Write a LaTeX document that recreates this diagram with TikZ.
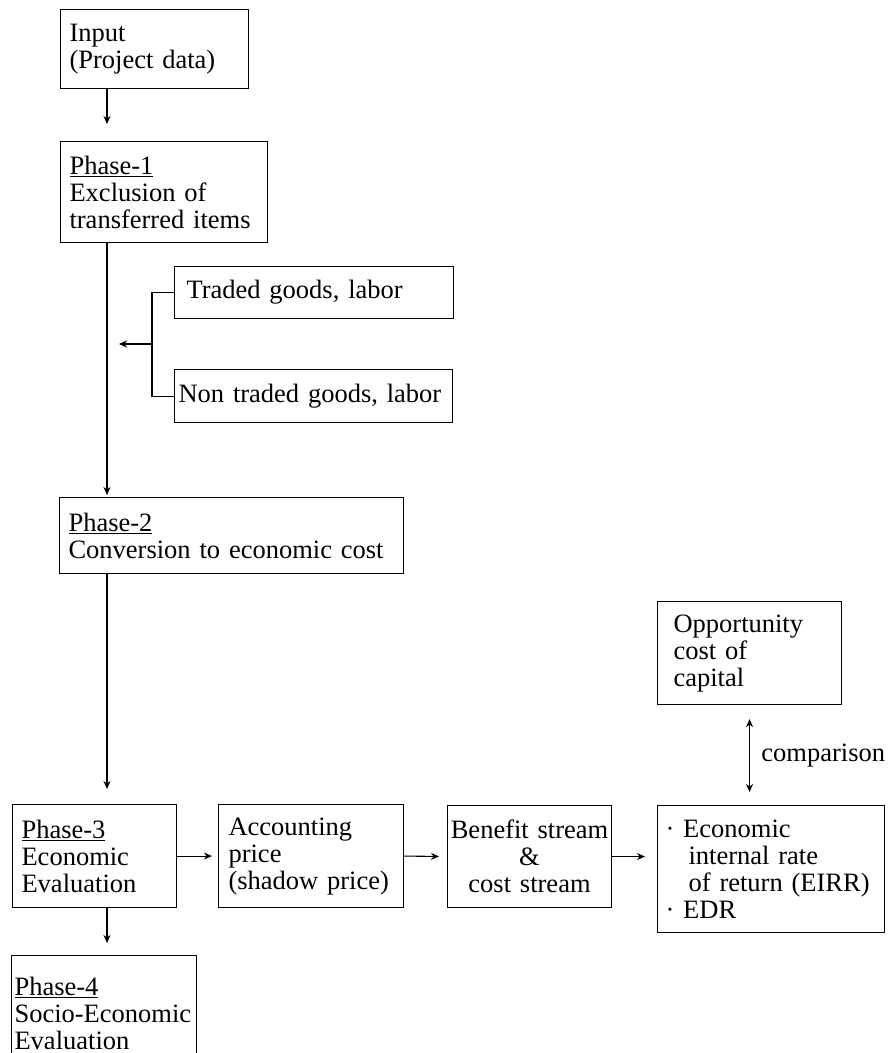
\documentclass[tikz,border=0pt]{standalone}
\usepackage{fontspec}
\setmainfont{Liberation Serif}
\usepackage{tikz}
\usetikzlibrary{arrows.meta,positioning}
\newcommand{\flowfont}{\fontsize{26.5pt}{27pt}\selectfont\hyphenpenalty=10000}
\tikzstyle{stepbox} = [draw, line width=1.1pt, anchor=north west, align=left, inner xsep=9pt, inner ysep=0pt, font=\flowfont]
\tikzstyle{flow} = [line width=1.1pt, -{Stealth[length=8pt,width=7pt]}]
\tikzstyle{twoway} = [line width=1.1pt, {Stealth[length=8pt,width=7pt]}-{Stealth[length=8pt,width=7pt]}]

\begin{document}
\begin{tikzpicture}[x=1pt, y=-1pt]
    \clip (0,0) rectangle (893,1053);

    % Left column: input and the phases
    \node[stepbox, text width=170pt, minimum height=79pt] (input) at (60,9) {Input\\(Project data)};
    \node[stepbox, text width=189pt, minimum height=101pt] (phase1) at (60,141) {\underline{Phase-1}\\Exclusion of\\transferred items};
    \node[stepbox, text width=326pt, minimum height=76pt] (phase2) at (59,497) {\underline{Phase-2}\\Conversion to economic cost};
    \node[stepbox, text width=146pt, minimum height=103pt] (phase3) at (12,804) {\underline{Phase-3}\\Economic\\Evaluation};
    \node[stepbox, inner xsep=3pt, text width=179pt, minimum height=115pt] (phase4) at (11,955) {\underline{Phase-4}\\Socio-Economic\\Evaluation};

    % Goods and labor
    \node[stepbox, inner xsep=12pt, text width=255pt, minimum height=52pt] (traded) at (174,266) {Traded goods, labor};
    \node[stepbox, inner xsep=4pt, text width=270pt, minimum height=53pt] (nontraded) at (174,369) {Non traded goods, labor};

    % Evaluation chain
    \node[stepbox, inner xsep=10pt, text width=165pt, minimum height=103pt] (account) at (218,804) {Accounting\\price\\(shadow price)};
    \node[stepbox, inner xsep=2pt, align=center, text width=160pt, minimum height=102pt] (stream) at (447,805) {Benefit stream\\\&\\cost stream};
    \node[stepbox, inner xsep=8pt, text width=211pt, minimum height=127pt] (eirr) at (657,805) {·\ Economic\\\hspace*{0.87em}internal rate\\\hspace*{0.87em}of return (EIRR)\\·\ EDR};
    \node[stepbox, inner xsep=16pt, text width=152pt, minimum height=103pt] (opp) at (657,601) {Opportunity\\cost of\\capital};

    \coordinate (spine) at (107,0);
    \coordinate (fork) at (152,344);

    % Main flow
    \draw[flow, shorten >=17pt] (input.south -| spine) -- (phase1.north -| spine);
    \draw[flow, shorten >=2pt] (phase1.south -| spine) -- (phase2.north -| spine);
    \draw[flow, shorten >=15pt] (phase2.south -| spine) -- (phase3.north -| spine);
    \draw[flow, shorten >=12pt] (phase3.south -| spine) -- (phase4.north -| spine);

    % Bracket joining the goods
    \draw[line width=1.1pt] (traded.west) -| (fork) |- (nontraded.west);
    \draw[flow, shorten >=12pt] (fork) -- (fork -| spine);

    % Chain to the rate of return
    \draw[flow, shorten >=6pt] (phase3.east) -- (account.west);
    \draw[flow, shorten >=8pt] (account.east) -- (stream.west);
    \draw[flow, shorten >=12pt] (stream.east) -- (eirr.west |- stream.east);
    \draw[twoway, shorten <=14pt, shorten >=13pt] (opp.south) -- (opp.south |- eirr.north)
        node[midway, right=8pt, font=\flowfont] (cmp) {comparison};
\end{tikzpicture}
\end{document}
